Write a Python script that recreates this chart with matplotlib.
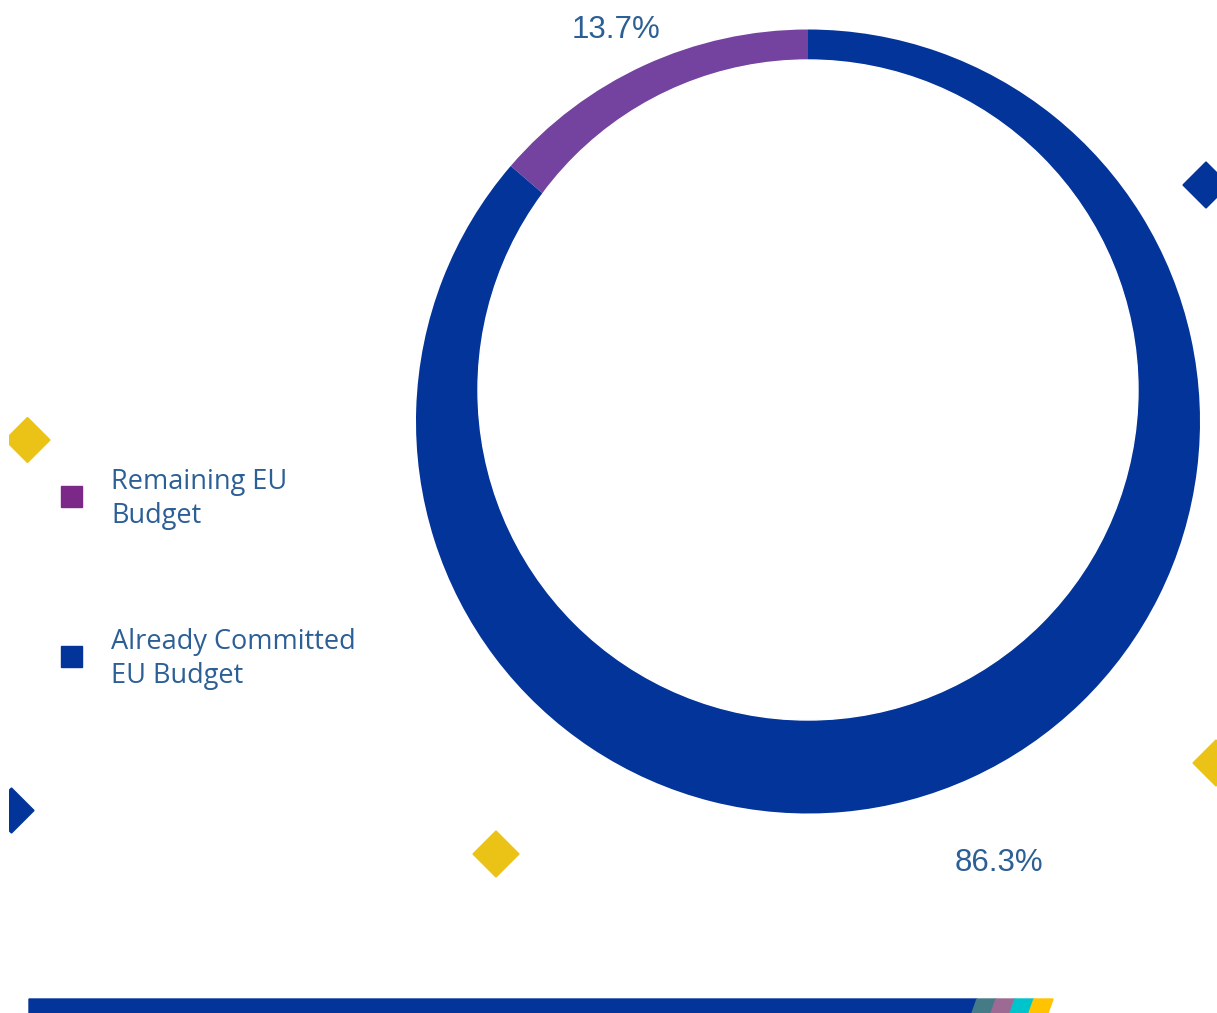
import matplotlib.pyplot as plt
from matplotlib.patches import Circle, Rectangle, Polygon
import numpy as np

# data
labels = ['Remaining EU\nBudget', 'Already Committed\nEU Budget']
shares = [13.7, 86.3]
arc_colors = ['#7443A0', '#03349A']
legend_colors = ['#7B2889', '#03349A']

W, H = 1217, 1013
text_blue = '#2B5F96'
yellow = '#EBC216'
blue = '#03349A'

def Y(y):
    # pixel row -> data y
    return H - y

fig = plt.figure(figsize=(W / 100, H / 100), dpi=100)
ax = fig.add_axes([9 / W, 0, 1 - 9 / W, 1])

# donut: outer pie, then an off-centre white hole
cx, cy, r_out = 808, Y(421.5), 392
ax.pie(shares, colors=arc_colors, startangle=90, counterclock=True,
       radius=r_out, center=(cx, cy), wedgeprops=dict(linewidth=0))
ax.add_patch(Circle((808, Y(390)), 330, color='white', zorder=5))

# percentage labels
start = 90
label_dist = [1.12, 1.22]
for val, d in zip(shares, label_dist):
    mid = np.deg2rad(start + val * 3.6 / 2)
    start += val * 3.6
    ax.text(cx + d * r_out * np.cos(mid) - 9, cy + d * r_out * np.sin(mid) - 7,
            f'{val}%', fontsize=22.5, color=text_blue, family='Liberation Sans',
            ha='center', va='center', zorder=6)

# legend
leg_y = [496, 656]
for lab, col, ly in zip(labels, legend_colors, leg_y):
    ax.add_patch(Rectangle((61, Y(ly) - 10.5), 21, 21, color=col, zorder=6))
    ax.text(111, Y(ly) - 3, lab, fontsize=19.5, color=text_blue,
            family='Open Sans', ha='left', va='center', linespacing=1.25, zorder=6)

# decorative diamonds
def diamond(x, y, h, col):
    ax.add_patch(Polygon([(x - h, Y(y)), (x, Y(y) + h), (x + h, Y(y)), (x, Y(y) - h)],
                         closed=True, color=col, zorder=6))

diamond(27.5, 440, 22.5, yellow)
diamond(11.5, 810.5, 22.5, blue)
diamond(496, 854, 23, yellow)
diamond(1206, 185, 23, blue)
diamond(1216, 763, 23, yellow)

# bottom stripe bar
ax.add_patch(Polygon([(29, Y(999)), (977, Y(999)), (972, Y(1013)), (29, Y(1013))],
                     closed=True, color=blue, zorder=6))
edges = [977, 996, 1015, 1034, 1053]
stripe_cols = ['#457A87', '#9C6A93', '#00C4CC', '#FFC300']
for x0, x1, col in zip(edges[:-1], edges[1:], stripe_cols):
    ax.add_patch(Polygon([(x0, Y(999)), (x1, Y(999)), (x1 - 5, Y(1013)), (x0 - 5, Y(1013))],
                         closed=True, color=col, zorder=6))

ax.set_xlim(9, W)
ax.set_ylim(0, H)
ax.set_aspect('auto')
ax.axis('off')

plt.savefig('out.png', dpi=100)
